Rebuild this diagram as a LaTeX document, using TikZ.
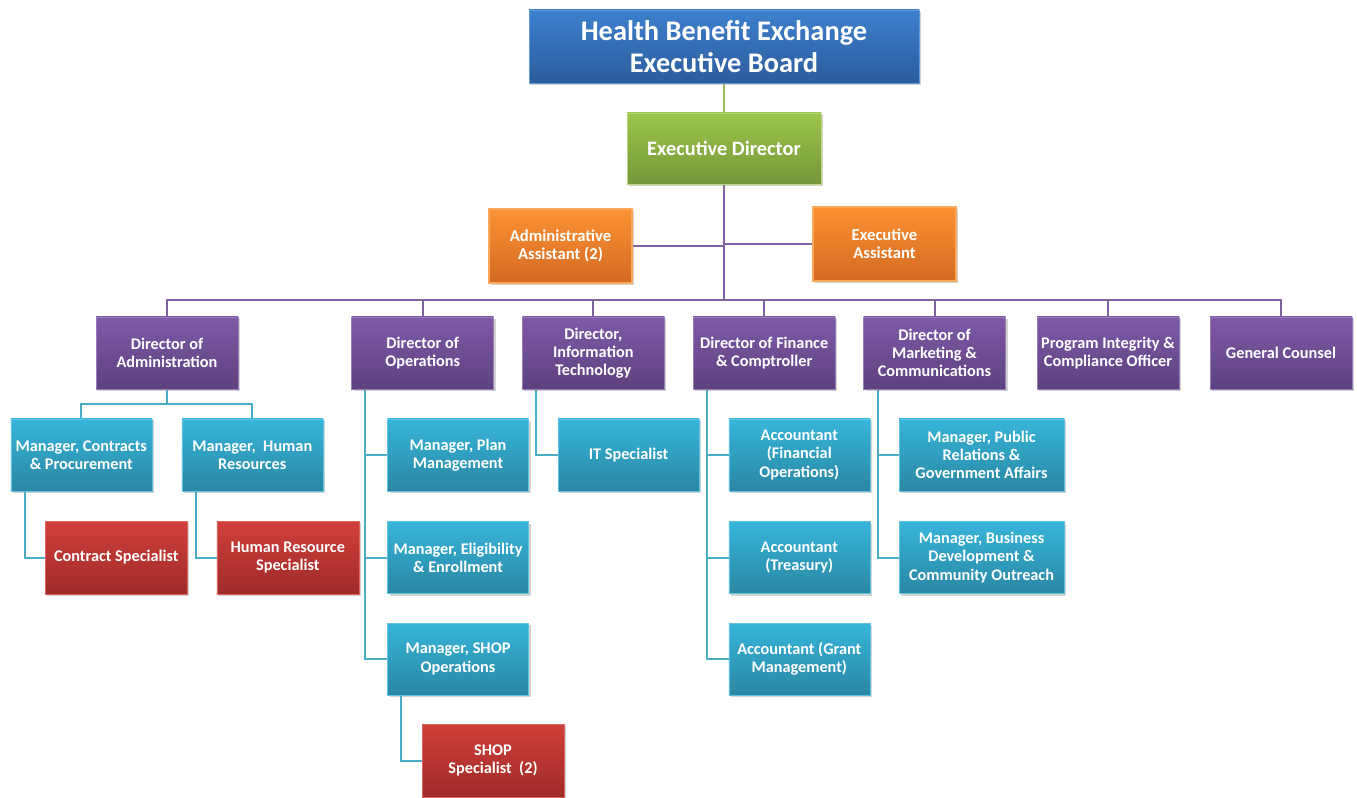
\documentclass[tikz,border=0pt]{standalone}
\usepackage{fontspec}
\setmainfont{Carlito}
\usetikzlibrary{shadows,backgrounds}
\definecolor{bluetop}{HTML}{3D80CE}
\definecolor{bluebot}{HTML}{2C5C9C}
\definecolor{greentop}{HTML}{9DC64B}
\definecolor{greenbot}{HTML}{74973A}
\definecolor{orangetop}{HTML}{FB9233}
\definecolor{orangebot}{HTML}{D46A22}
\definecolor{purpletop}{HTML}{7E5AA8}
\definecolor{purplebot}{HTML}{5E417E}
\definecolor{cyantop}{HTML}{37B5DA}
\definecolor{cyanbot}{HTML}{2A87A3}
\definecolor{redtop}{HTML}{D13F3B}
\definecolor{redbot}{HTML}{9E2B29}
\definecolor{lgreen}{HTML}{9BBB59}
\definecolor{lpurple}{HTML}{8064A2}
\definecolor{lcyan}{HTML}{4BACC6}
\tikzset{
  box/.style={rectangle, inner sep=1pt, align=center, text=white,
    font=\bfseries\fontsize{12.2pt}{13.6pt}\selectfont,
    drop shadow={opacity=0.35, shadow xshift=1.5pt, shadow yshift=-1.5pt}},
  boardbox/.style={box, top color=bluetop, bottom color=bluebot, draw=bluetop!80!white, line width=0.6pt,
    minimum width=292.5pt, minimum height=54.75pt,
    font=\bfseries\fontsize{21.3pt}{24pt}\selectfont},
  edbox/.style={box, top color=greentop, bottom color=greenbot, draw=greentop!70!white, line width=0.6pt,
    minimum width=145.5pt, minimum height=53.25pt,
    font=\bfseries\fontsize{15.3pt}{18pt}\selectfont},
  asstbox/.style={box, top color=orangetop, bottom color=orangebot, draw=orangetop!80!white, line width=0.8pt,
    minimum width=107.25pt, minimum height=55.5pt,
    font=\bfseries\fontsize{12.5pt}{13.8pt}\selectfont},
  dirbox/.style={box, top color=purpletop, bottom color=purplebot, draw=purpletop!80!white, line width=0.4pt,
    minimum width=106.5pt, minimum height=54pt},
  mgrbox/.style={box, top color=cyantop, bottom color=cyanbot, draw=cyantop!80!white, line width=0.4pt,
    minimum width=105.75pt, minimum height=54pt},
  specbox/.style={box, top color=redtop, bottom color=redbot, draw=redtop!80!white, line width=0.4pt,
    minimum width=106.5pt, minimum height=54.75pt},
  gline/.style={draw=lgreen, line width=1.5pt},
  pline/.style={draw=lpurple, line width=1.5pt},
  cline/.style={draw=lcyan, line width=1.5pt},
}
\begin{document}
\begin{tikzpicture}[x=0.75pt, y=-0.75pt]
\useasboundingbox (0,0) rectangle (1357,798);

\coordinate (bus) at (724,300);
\coordinate (dab) at (167,404);

% top levels
\node[boardbox] (board) at (724,46.5) {Health Benefit Exchange\\Executive Board};
\node[edbox] (ed) at (724,148.5) {Executive Director};
\node[asstbox] (aa) at (560.5,246) {Administrative\\Assistant (2)};
\node[asstbox] (ea) at (884.5,244) {Executive\\Assistant};

% directors
\node[dirbox] (dadm) at (167,353) {Director of\\Administration};
\node[dirbox] (dops) at (422.7,353) {Director of\\Operations};
\node[dirbox] (dit) at (593.3,353) {Director,\\Information\\Technology};
\node[dirbox] (dfin) at (764.2,353) {Director of Finance\\\& Comptroller};
\node[dirbox] (dmkt) at (934.5,353) {Director of\\Marketing \&\\Communications};
\node[dirbox] (dpic) at (1108,353) {Program Integrity \&\\Compliance Officer};
\node[dirbox] (dgc) at (1281,353) {General Counsel};

% administration
\node[mgrbox] (mcon) at (81.3,455) {Manager, Contracts\\\& Procurement};
\node[mgrbox] (mhr) at (252.3,455) {Manager,~ Human\\Resources};
\node[specbox] (scon) at (116.3,557.5) {Contract Specialist};
\node[specbox] (shr) at (287.8,557.5) {Human Resource\\Specialist};

% operations
\node[mgrbox] (mplan) at (458,455) {Manager, Plan\\Management};
\node[mgrbox] (melig) at (458,557.5) {Manager, Eligibility\\\& Enrollment};
\node[mgrbox] (mshop) at (458,659) {Manager, SHOP\\Operations};
\node[specbox] (sshop) at (493,760.5) {SHOP\\Specialist~ (2)};

% information technology
\node[mgrbox] (itsp) at (628.5,455) {IT Specialist};

% finance
\node[mgrbox] (afin) at (799.3,455) {Accountant\\(Financial\\Operations)};
\node[mgrbox] (atre) at (799.3,557.5) {Accountant\\(Treasury)};
\node[mgrbox] (agrm) at (799.3,659) {Accountant (Grant\\Management)};

% marketing
\node[mgrbox, minimum width=123.75pt] (mpub) at (981.5,455) {Manager, Public\\Relations \&\\Government Affairs};
\node[mgrbox, minimum width=123.75pt] (mbiz) at (981.5,557.5) {Manager, Business\\Development \&\\Community Outreach};

% connectors drawn behind the boxes
\begin{scope}[on background layer]
  \draw[gline] (board.south) -- (ed.north);
  \draw[pline] (ed.south) -- (bus);
  \draw[pline] (aa.east) -- (aa.east -| ed.south);
  \draw[pline] (ea.west) -- (ea.west -| ed.south);
  \foreach \d in {dadm,dops,dit,dfin,dmkt,dpic,dgc}
    \draw[pline] (bus) -| (\d.north);
  % administration branch
  \draw[cline] (dadm.south) -- (dab);
  \draw[cline] (dab) -| (mcon.north);
  \draw[cline] (dab) -| (mhr.north);
  \draw[cline] ([xshift=10.5pt]mcon.south west) |- (scon.west);
  \draw[cline] ([xshift=10.5pt]mhr.south west) |- (shr.west);
  % operations branch
  \draw[cline] ([xshift=10pt]dops.south west) |- (mplan.west);
  \draw[cline] ([xshift=10pt]dops.south west) |- (melig.west);
  \draw[cline] ([xshift=10pt]dops.south west) |- (mshop.west);
  \draw[cline] ([xshift=10.5pt]mshop.south west) |- (sshop.west);
  % information technology branch
  \draw[cline] ([xshift=10.5pt]dit.south west) |- (itsp.west);
  % finance branch
  \draw[cline] ([xshift=10.2pt]dfin.south west) |- (afin.west);
  \draw[cline] ([xshift=10.2pt]dfin.south west) |- (atre.west);
  \draw[cline] ([xshift=10.2pt]dfin.south west) |- (agrm.west);
  % marketing branch
  \draw[cline] ([xshift=11pt]dmkt.south west) |- (mpub.west);
  \draw[cline] ([xshift=11pt]dmkt.south west) |- (mbiz.west);
\end{scope}
\end{tikzpicture}
\end{document}
